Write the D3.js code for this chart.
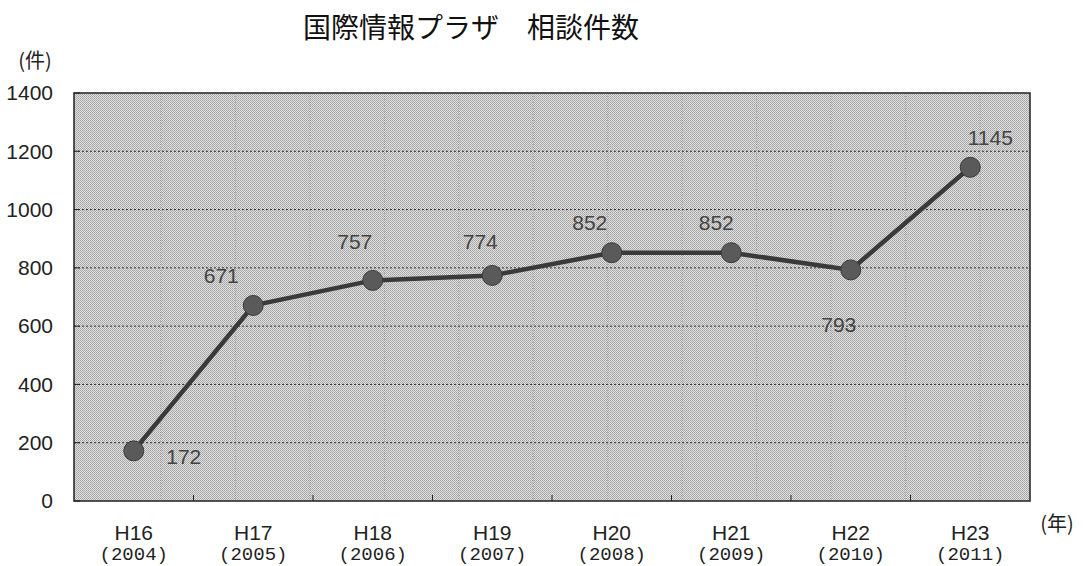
<!DOCTYPE html>
<html><head><meta charset="utf-8">
<script src="https://cdn.jsdelivr.net/npm/d3@7"></script>
<style>
body{margin:0;background:#fff;}
svg{display:block;}
</style></head>
<body><svg id="c" width="1083" height="566"></svg>
<script>
const categories = ["H16","H17","H18","H19","H20","H21","H22","H23"];
const years = ["(2004)","(2005)","(2006)","(2007)","(2008)","(2009)","(2010)","(2011)"];
const values = [172, 671, 757, 774, 852, 852, 793, 1145];
const yTicks = [0,200,400,600,800,1000,1200,1400];
// label offsets relative to each point (dx, dy)
const labelDx = [50, -32, -18, -12, -22, -15, -12, 20];
const labelDy = [13, -22, -31, -26, -23, -23, 62, -22];

const svg = d3.select("#c");
const m = {l:74, r:1030, t:93, b:501};
const x = d3.scaleBand().domain(categories).range([m.l, m.r]);
const y = d3.scaleLinear().domain([0,1400]).range([m.b, m.t]);

// halftone pattern
const defs = svg.append("defs");
const pat = defs.append("pattern").attr("id","ht").attr("width",2).attr("height",2).attr("patternUnits","userSpaceOnUse");
pat.append("rect").attr("width",2).attr("height",2).attr("fill","#dedede");
pat.append("rect").attr("width",1).attr("height",1).attr("fill","#a4a4a4");
pat.append("rect").attr("x",1).attr("y",1).attr("width",1).attr("height",1).attr("fill","#b0b0b0");

svg.append("rect").attr("x",m.l).attr("y",m.t).attr("width",m.r-m.l).attr("height",m.b-m.t).attr("fill","url(#ht)");

// horizontal gridlines
svg.append("g").selectAll("line").data(yTicks.slice(1,-1)).join("line")
  .attr("x1",m.l).attr("x2",m.r).attr("y1",d=>y(d)).attr("y2",d=>y(d))
  .attr("stroke","#333").attr("stroke-width",1).attr("stroke-dasharray","2,2");

// faint vertical gridlines
const vScale = d3.scaleLinear().domain([0, 11]).range([161, 980]);
svg.append("g").selectAll("line").data(d3.range(0,12)).join("line")
  .attr("x1",d=>vScale(d)).attr("x2",d=>vScale(d)).attr("y1",m.t).attr("y2",m.b)
  .attr("stroke","#666").attr("stroke-width",1).attr("stroke-dasharray","1,2").attr("opacity",0.4);

// border
svg.append("rect").attr("x",m.l).attr("y",m.t).attr("width",m.r-m.l).attr("height",m.b-m.t)
  .attr("fill","none").attr("stroke","#222").attr("stroke-width",1.5);

// y axis
const yAxis = d3.axisLeft(y).tickValues(yTicks).tickFormat(d3.format("d")).tickSize(0).tickPadding(21);
const ga = svg.append("g").attr("transform",`translate(${m.l},0)`).call(yAxis);
ga.select(".domain").remove();
ga.selectAll("text").attr("font-family","'Liberation Sans', Arial, sans-serif").attr("font-size",21).attr("fill","#222");
// left inner ticks
svg.append("g").selectAll("line").data(yTicks).join("line")
  .attr("x1",m.l).attr("x2",m.l+6).attr("y1",d=>y(d)).attr("y2",d=>y(d)).attr("stroke","#222");

// x boundary ticks
svg.append("g").selectAll("line").data(categories.slice(1)).join("line")
  .attr("x1",d=>x(d)).attr("x2",d=>x(d)).attr("y1",m.b).attr("y2",m.b-6).attr("stroke","#222");

// x labels
const xl = svg.append("g");
xl.selectAll("text.c").data(categories).join("text").attr("class","c")
  .attr("x",d=>x(d)+x.bandwidth()/2).attr("y",540).attr("text-anchor","middle")
  .attr("font-family","'Liberation Sans', Arial, sans-serif").attr("font-size",21).attr("fill","#222").text(d=>d);
xl.selectAll("text.yr").data(categories).join("text").attr("class","yr")
  .attr("x",d=>x(d)+x.bandwidth()/2).attr("y",560).attr("text-anchor","middle")
  .attr("font-family","'Liberation Mono', 'Courier New', monospace").attr("font-size",19).attr("fill","#222")
  .text((d,i)=>years[i]);

// line
const line = d3.line().x((d,i)=>x(categories[i])+x.bandwidth()/2).y(d=>y(d));
svg.append("path").datum(values).attr("d",line).attr("fill","none").attr("stroke","#3a3a3a").attr("stroke-width",4.5);

svg.append("g").selectAll("circle").data(values).join("circle")
  .attr("cx",(d,i)=>x(categories[i])+x.bandwidth()/2).attr("cy",d=>y(d)).attr("r",10)
  .attr("fill","#5a5a5a").attr("stroke","#3a3a3a").attr("stroke-width",1);

// value labels
svg.append("g").selectAll("text").data(values).join("text")
  .attr("x",(d,i)=>x(categories[i])+x.bandwidth()/2+labelDx[i])
  .attr("y",(d,i)=>y(d)+labelDy[i])
  .attr("text-anchor","middle")
  .attr("font-family","'Liberation Sans', Arial, sans-serif").attr("font-size",21)
  .attr("fill","#444").text(d=>d);

// title & units
svg.append("text").attr("x",471).attr("y",38).attr("text-anchor","middle")
  .attr("font-family","'Noto Sans CJK JP', sans-serif").attr("font-size",28).attr("fill","#111")
  .text("国際情報プラザ　相談件数");
svg.append("text").attr("x",35).attr("y",68).attr("text-anchor","middle")
  .attr("font-family","'Noto Sans CJK JP', sans-serif").attr("font-size",20).attr("fill","#222").text("(件)");
svg.append("text").attr("x",1057).attr("y",531).attr("text-anchor","middle")
  .attr("font-family","'Noto Sans CJK JP', sans-serif").attr("font-size",20).attr("fill","#222").text("(年)");
</script></body></html>
